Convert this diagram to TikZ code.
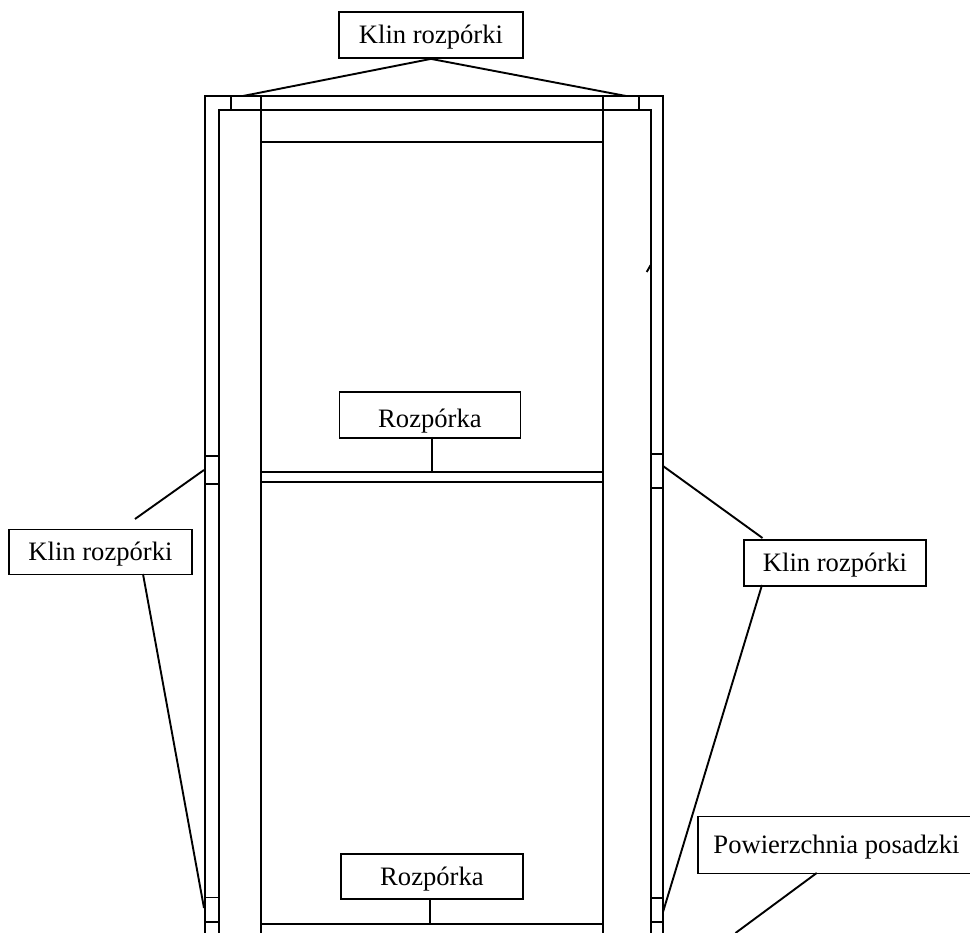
\documentclass[tikz,border=0pt]{standalone}
\usepackage{fontspec}
\setmainfont{Liberation Serif}
\tikzset{
  px/.style={x=1pt,y=-1pt},
  ln/.style={line width=1.9pt,black},
  lbl/.style={draw,line width=1.9pt,fill=white,font=\fontsize{26.6}{30}\selectfont,inner sep=0pt,anchor=north west,align=center,text height=20pt,text depth=2pt}
}
\begin{document}
\begin{tikzpicture}[px]
\useasboundingbox (0,0) rectangle (970,933);
\begin{scope}
\clip (0,0) rectangle (970,933);
% frame
\draw[ln] (204.9,933) -- (204.9,96) -- (662.7,96) -- (662.7,933);
\draw[ln] (218.9,933) -- (218.9,110) -- (650.7,110) -- (650.7,933);
\draw[ln] (260.9,96) -- (260.9,933);
\draw[ln] (602.7,96) -- (602.7,933);
\draw[ln] (230.9,96) -- (230.9,110);
\draw[ln] (638.7,96) -- (638.7,110);
\draw[ln] (260.9,141.7) -- (602.7,141.7);
\draw[ln] (260.9,472) -- (602.7,472);
\draw[ln] (260.9,481.9) -- (602.7,481.9);
\draw[ln] (260.9,924) -- (602.7,924);
\draw[ln] (204.9,455.7) -- (218.9,455.7);
\draw[ln] (204.9,483.7) -- (218.9,483.7);
\draw[ln] (650.7,453.7) -- (662.7,453.7);
\draw[ln] (650.7,488) -- (662.7,488);
\draw[ln] (204.9,897.5) -- (218.9,897.5);
\draw[ln] (204.9,921.7) -- (218.9,921.7);
\draw[ln] (650.7,897.7) -- (662.7,897.7);
\draw[ln] (650.7,921.7) -- (662.7,921.7);
\draw[ln] (646.7,272) -- (650.7,265);
% labels
\node[lbl,minimum width=184pt,minimum height=46pt] (kt) at (338,11) {Klin rozpórki};
\node[lbl,minimum width=183pt,minimum height=45pt] (kl) at (8,528.5) {Klin rozpórki};
\node[lbl,minimum width=182pt,minimum height=46pt] (kr) at (743,539) {Klin rozpórki};
\node[lbl,minimum width=181pt,minimum height=46pt,text height=28pt] (rm) at (338.5,391) {Rozpórka};
\node[lbl,minimum width=182pt,minimum height=45pt] (rb) at (340,852.7) {Rozpórka};
\node[lbl,minimum width=277pt,minimum height=57pt] (pp) at (697,815.5) {Powierzchnia posadzki};
% connector ends
\coordinate (a1) at (243,96);
\coordinate (a2) at (626,96);
\coordinate (a3) at (135,519);
\coordinate (a4) at (204,470);
\coordinate (a5) at (143,574);
\coordinate (a6) at (204,908);
\coordinate (a7) at (663,466);
\coordinate (a8) at (762.5,538);
\coordinate (a9) at (762,585);
\coordinate (a10) at (663,912);
\coordinate (a11) at (432,437);
\coordinate (a12) at (432,472);
\coordinate (a13) at (430,898);
\coordinate (a14) at (430,924);
\coordinate (a15) at (816.7,873);
\coordinate (a16) at (735.5,933);
\draw[ln] (a1) -- (kt.south) -- (a2);
\draw[ln] (a3) -- (a4);
\draw[ln] (a5) -- (a6);
\draw[ln] (a7) -- (a8);
\draw[ln] (a9) -- (a10);
\draw[ln] (a11) -- (a12);
\draw[ln] (a13) -- (a14);
\draw[ln] (a15) -- (a16);
\end{scope}
\end{tikzpicture}
\end{document}
